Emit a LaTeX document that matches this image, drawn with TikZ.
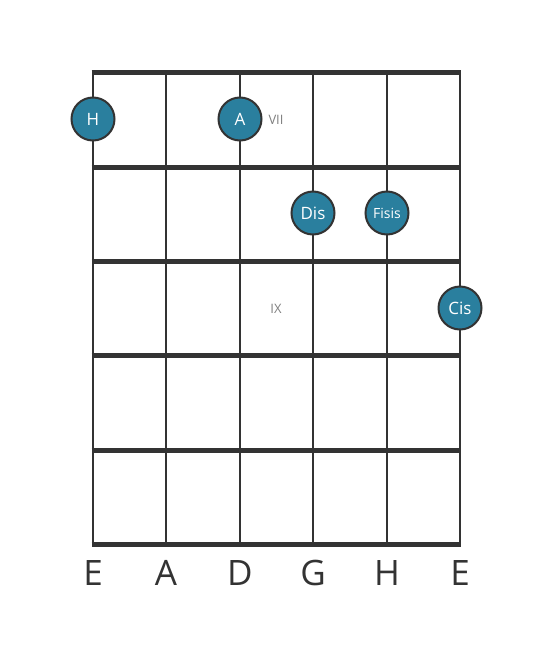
\documentclass[tikz,border=0pt]{standalone}
\usepackage{fontspec}
\setmainfont{Open Sans}
\begin{document}
\begin{tikzpicture}[x=1pt,y=-1pt,
  fret/.style={line width=5pt,draw=linec},
  stringl/.style={line width=2.8pt,draw=linec},
  note/.style={circle,fill=notec,draw=linec,line width=2pt,minimum size=43pt,inner sep=0pt,text=white,font=\fontsize{17}{17}\selectfont},
  smallnote/.style={note,font=\fontsize{14}{14}\selectfont},
  fretnum/.style={text=gray,font=\fontsize{13}{13}\selectfont},
  strname/.style={text=linec,font=\fontsize{35}{35}\selectfont}]
\definecolor{linec}{HTML}{333333}
\definecolor{notec}{HTML}{2A7F9E}
\useasboundingbox (0,0) rectangle (553,656);
\foreach \x/\n in {93/s1,166/s2,240/s3,313/s4,387/s5,460/s6}{
  \coordinate (\n t) at (\x,72);
  \coordinate (\n b) at (\x,544);
  \draw[stringl] (\n t) -- (\n b);
}
\foreach \y/\n in {72/f0,167/f1,261/f2,355/f3,450/f4,544/f5}{
  \coordinate (\n l) at (91.6,\y);
  \coordinate (\n r) at (461.4,\y);
  \draw[fret] (\n l) -- (\n r);
}
\node[note] (nH) at (93,119) {H};
\node[note] (nA) at (240,119) {A};
\node[note] (nDis) at (313,213) {Dis};
\node[smallnote] (nFisis) at (387,213) {Fisis};
\node[note] (nCis) at (460,308) {Cis};
\node[fretnum] (vii) at (276,120) {VII};
\node[fretnum] (ix) at (276,309) {IX};
\foreach \x/\t/\n in {93/E/l1,166/A/l2,240/D/l3,313/G/l4,387/H/l5,460/E/l6}{
  \node[strname] (\n) at (\x,573) {\t};
}
\end{tikzpicture}
\end{document}
